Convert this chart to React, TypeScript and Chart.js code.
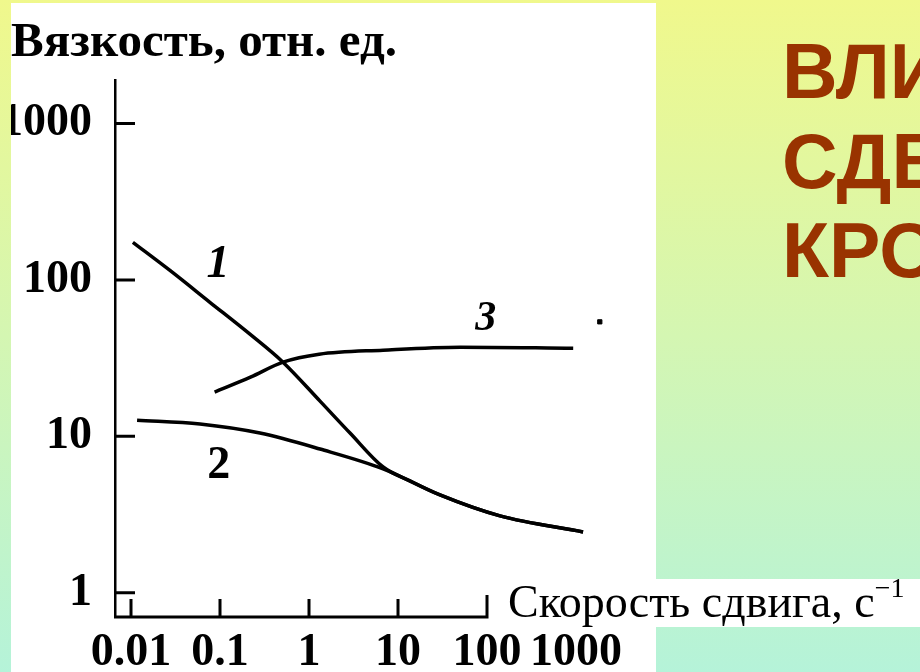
import React, { useEffect, useRef } from "react";
import { Chart, registerables } from "chart.js";

Chart.register(...registerables);

// ---- data ----
const xTickValues = [0.01, 0.1, 1, 10, 100, 1000];
const xTickLabels = ["0.01", "0.1", "1", "10", "100", "1000"];
const yTickValues = [1, 10, 100, 1000];
const yTickLabels = ["1", "10", "100", "1000"];

const curve1Rates = [0.0105, 0.0274, 0.077, 0.217, 0.51, 1.33, 2.89, 6.8, 13.6, 29.6, 140, 1200];
const curve1Viscosity = [174, 115, 72, 45, 29.8, 16.8, 10.5, 6.37, 5.19, 4.22, 3.1, 2.45];

const curve2Rates = [0.0117, 0.0596, 0.281, 1.33, 6.8, 29.6, 140, 1200];
const curve2Viscosity = [12.7, 12.0, 10.5, 8.3, 6.2, 4.22, 3.1, 2.45];

const curve3Rates = [0.087, 0.22, 0.51, 1.3, 6.8, 50, 930];
const curve3Viscosity = [19.2, 23.9, 29.8, 33.5, 35.6, 37.2, 36.6];

const strayDotRate = [1850];
const strayDotViscosity = [54];

const curveNames = ["1", "2", "3"];
const curveNameRates = [0.095, 0.097, 97];
const curveNameViscosity = [124, 6.46, 56];

const yTitle = "Вязкость, отн. ед.";
const xTitle = "Скорость сдвига, с";
const xTitleSup = "−1";
const headingLines = ["ВЛИЯНИЕ СКОРОСТИ", "СДВИГА НА ВЯЗКОСТЬ", "КРОВИ"];

const SERIF = "'Liberation Serif', 'Times New Roman', serif";

const toPoints = (xs: number[], ys: number[]) => xs.map((x, i) => ({ x, y: ys[i] }));

const decorPlugin = {
  id: "decor",
  afterDatasetsDraw(chart: any) {
    const { ctx, chartArea, scales } = chart;
    const xs = scales.x;
    const ys = scales.y;
    ctx.save();
    ctx.strokeStyle = "#000";
    ctx.lineWidth = 3;
    const yAxis = chartArea.bottom;
    const xEnd = xs.getPixelForValue(100);
    ctx.beginPath();
    ctx.moveTo(chartArea.left - 1, yAxis);
    ctx.lineTo(xEnd, yAxis);
    ctx.lineTo(xEnd, yAxis - 22);
    ctx.stroke();
    ctx.beginPath();
    xTickValues.filter((v) => v <= 10).forEach((v) => {
      const px = xs.getPixelForValue(v);
      ctx.moveTo(px, yAxis);
      ctx.lineTo(px, yAxis - 18);
    });
    yTickValues.forEach((v) => {
      const py = ys.getPixelForValue(v);
      ctx.moveTo(chartArea.left, py);
      ctx.lineTo(chartArea.left + 20, py);
    });
    ctx.stroke();
    ctx.fillStyle = "#000";
    ctx.textAlign = "center";
    ctx.textBaseline = "middle";
    curveNames.forEach((name, i) => {
      const italic = name !== "2";
      ctx.font = `${italic ? "italic " : ""}bold ${name === "3" ? 42 : 46}px ${SERIF}`;
      ctx.fillText(name, xs.getPixelForValue(curveNameRates[i]), ys.getPixelForValue(curveNameViscosity[i]));
    });
    ctx.restore();
  },
};

export default function App() {
  const ref = useRef<HTMLCanvasElement>(null);
  useEffect(() => {
    const lineStyle = {
      showLine: true,
      borderColor: "#000",
      borderWidth: 3.5,
      pointRadius: 0,
      cubicInterpolationMode: "monotone" as const,
      fill: false,
    };
    const chart = new Chart(ref.current!, {
      type: "scatter",
      data: {
        datasets: [
          { label: "1", data: toPoints(curve1Rates, curve1Viscosity), ...lineStyle },
          { label: "2", data: toPoints(curve2Rates, curve2Viscosity), ...lineStyle },
          { label: "3", data: toPoints(curve3Rates, curve3Viscosity), ...lineStyle },
          {
            label: "dot",
            data: toPoints(strayDotRate, strayDotViscosity),
            showLine: false,
            pointStyle: "rect",
            pointRadius: 3,
            backgroundColor: "#000",
            borderColor: "#000",
          },
        ],
      },
      options: {
        animation: false,
        responsive: false,
        layout: { padding: { left: 0, right: 36, top: 0, bottom: 0 } },
        plugins: {
          legend: { display: false },
          tooltip: { enabled: false },
          title: {
            display: true,
            text: yTitle,
            align: "start",
            color: "#000",
            font: { family: SERIF, size: 49, weight: "bold" },
            padding: { top: 11, bottom: 7 },
          },
        },
        scales: {
          x: {
            type: "logarithmic",
            min: 0.00661,
            max: 3121,
            grid: { display: false },
            border: { display: false },
            afterBuildTicks: (scale: any) => {
              scale.ticks = xTickValues.map((v) => ({ value: v }));
            },
            afterFit: (scale: any) => {
              scale.height = 55;
            },
            ticks: {
              autoSkip: false,
              maxRotation: 0,
              padding: 1,
              color: "#000",
              font: { family: SERIF, size: 46, weight: "bold" },
              callback: (_v: any, i: number) => xTickLabels[i],
            },
          },
          y: {
            type: "logarithmic",
            min: 0.713,
            max: 1905,
            grid: { display: false },
            border: { display: true, color: "#000", width: 2.5 },
            afterBuildTicks: (scale: any) => {
              scale.ticks = yTickValues.map((v) => ({ value: v }));
            },
            afterFit: (scale: any) => {
              scale.width = 104;
            },
            ticks: {
              autoSkip: false,
              padding: 15,
              color: "#000",
              font: { family: SERIF, size: 46, weight: "bold" },
              callback: (_v: any, i: number) => yTickLabels[i],
            },
          },
        },
      },
      plugins: [decorPlugin],
    } as any);
    return () => chart.destroy();
  }, []);

  return (
    <div
      style={{
        position: "fixed",
        left: 0,
        top: 0,
        width: 920,
        height: 672,
        overflow: "hidden",
        background: "linear-gradient(to bottom, #f0f88c 0%, #d4f6b2 50%, #b5f3d9 100%)",
      }}
    >
      <div style={{ position: "absolute", left: 11, top: 3, width: 645, height: 669, background: "#fff" }} />
      <canvas
        ref={ref}
        width={645}
        height={669}
        style={{ position: "absolute", left: 11, top: 3, width: 645, height: 669 }}
      />
      <div style={{ position: "absolute", left: 656, top: 579, width: 264, height: 48, background: "#fff" }} />
      <div
        style={{
          position: "absolute",
          left: 508,
          top: 579,
          fontFamily: SERIF,
          fontSize: 46,
          lineHeight: "46px",
          color: "#000",
          whiteSpace: "nowrap",
        }}
      >
        {xTitle}
        <span style={{ fontSize: 28, position: "relative", top: -20 }}>{xTitleSup}</span>
      </div>
      <div
        style={{
          position: "absolute",
          left: 782,
          top: 27,
          fontFamily: "'Liberation Sans', Arial, sans-serif",
          fontWeight: "bold",
          fontSize: 77,
          lineHeight: "89.5px",
          color: "#993300",
          whiteSpace: "nowrap",
        }}
      >
        {headingLines.map((l, i) => (
          <div key={i}>{l}</div>
        ))}
      </div>
    </div>
  );
}
